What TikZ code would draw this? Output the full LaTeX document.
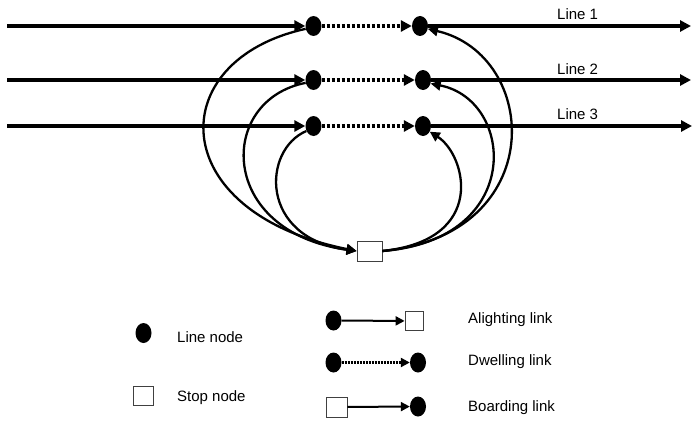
\documentclass[tikz,border=0pt]{standalone}
\usepackage{fontspec}
\setmainfont{Liberation Sans}
\usetikzlibrary{arrows.meta,shapes.geometric}
\begin{document}
\begin{tikzpicture}[x=1pt,y=-1pt,
  linenode/.style={ellipse,fill=black,minimum width=16pt,minimum height=20pt,inner sep=0pt},
  stopnode/.style={rectangle,draw=black!75,line width=0.8pt,fill=white,minimum width=25pt,minimum height=20pt,inner sep=0pt},
  bigtip/.style={-{Triangle[length=11pt,width=11pt]}},
  midtip/.style={-{Triangle[length=10pt,width=10pt]}},
  smalltip/.style={-{Triangle[length=9pt,width=9pt]}},
  mainline/.style={line width=3.6pt},
  dwell/.style={line width=3.6pt,dash pattern=on 3pt off 2pt},
  linkcurve/.style={line width=2.3pt},
  legendlink/.style={line width=2pt},
  legenddwell/.style={line width=2.6pt,dash pattern=on 1.8pt off 1.2pt},
  label/.style={anchor=west,inner sep=0pt,font=\fontsize{15}{17}\selectfont}
]
\useasboundingbox (0,0) rectangle (692,420);

% line nodes of the three lines
\node[linenode] (A1) at (313.5,26) {};
\node[linenode] (B1) at (420,26) {};
\node[linenode] (A2) at (313.5,80) {};
\node[linenode] (B2) at (423,80) {};
\node[linenode] (A3) at (313.5,126) {};
\node[linenode] (B3) at (423,126) {};

% stop node
\node[stopnode] (S) at (369.5,251) {};

% line ends
\coordinate (W1) at (7,26);   \coordinate (E1) at (691,26);
\coordinate (W2) at (7,80);   \coordinate (E2) at (691,80);
\coordinate (W3) at (7,126);  \coordinate (E3) at (692,126);

% lines
\foreach \i in {1,2,3}{
  \draw[mainline,bigtip] (W\i) -- (A\i);
  \draw[dwell,bigtip] (A\i) -- (B\i);
  \draw[mainline,bigtip] (B\i) -- (E\i);
}

\node[label] (T1) at (557,14) {Line 1};
\node[label] (T2) at (557,69) {Line 2};
\node[label] (T3) at (557,114) {Line 3};

% alighting links
\draw[linkcurve,midtip] (A1.200) .. controls (163,60) and (163,212) .. (S.west);
\draw[linkcurve,midtip] (A2.200) .. controls (217,100) and (217,232) .. (S.west);
\draw[linkcurve,midtip] (A3.215) .. controls (262,150) and (259,238) .. (S.west);

% boarding links
\draw[linkcurve,midtip] (S.east) .. controls (550,235) and (540,55) .. (B1.-20);
\draw[linkcurve,midtip] (S.east) .. controls (525,240) and (515,100) .. (B2.-25);
\draw[linkcurve,midtip] (S.east) .. controls (488,240) and (466,155) .. (B3.-40);

% legend
\node[linenode] (LN) at (143.5,333) {};
\node[label] (LNt) at (177,337) {Line node};
\node[stopnode,minimum width=20pt,minimum height=19pt] (SN) at (143,395.5) {};
\node[label] (SNt) at (177,398) {Stop node};

\node[linenode] (AL1) at (333.5,320.5) {};
\node[stopnode,minimum width=18pt,minimum height=19pt] (AL2) at (414,321) {};
\draw[legendlink,smalltip] (AL1) -- (AL2);
\node[label] (ALt) at (468,320) {Alighting link};

\node[linenode] (DW1) at (333.5,362.5) {};
\node[linenode] (DW2) at (418,362.5) {};
\draw[legenddwell,smalltip] (DW1) -- (DW2);
\node[label] (DWt) at (468,362) {Dwelling link};

\node[stopnode,minimum width=21pt,minimum height=20pt] (BO1) at (336.5,407) {};
\node[linenode] (BO2) at (418,406.5) {};
\draw[legendlink,smalltip] (BO1) -- (BO2);
\node[label] (BOt) at (468,408) {Boarding link};
\end{tikzpicture}
\end{document}
